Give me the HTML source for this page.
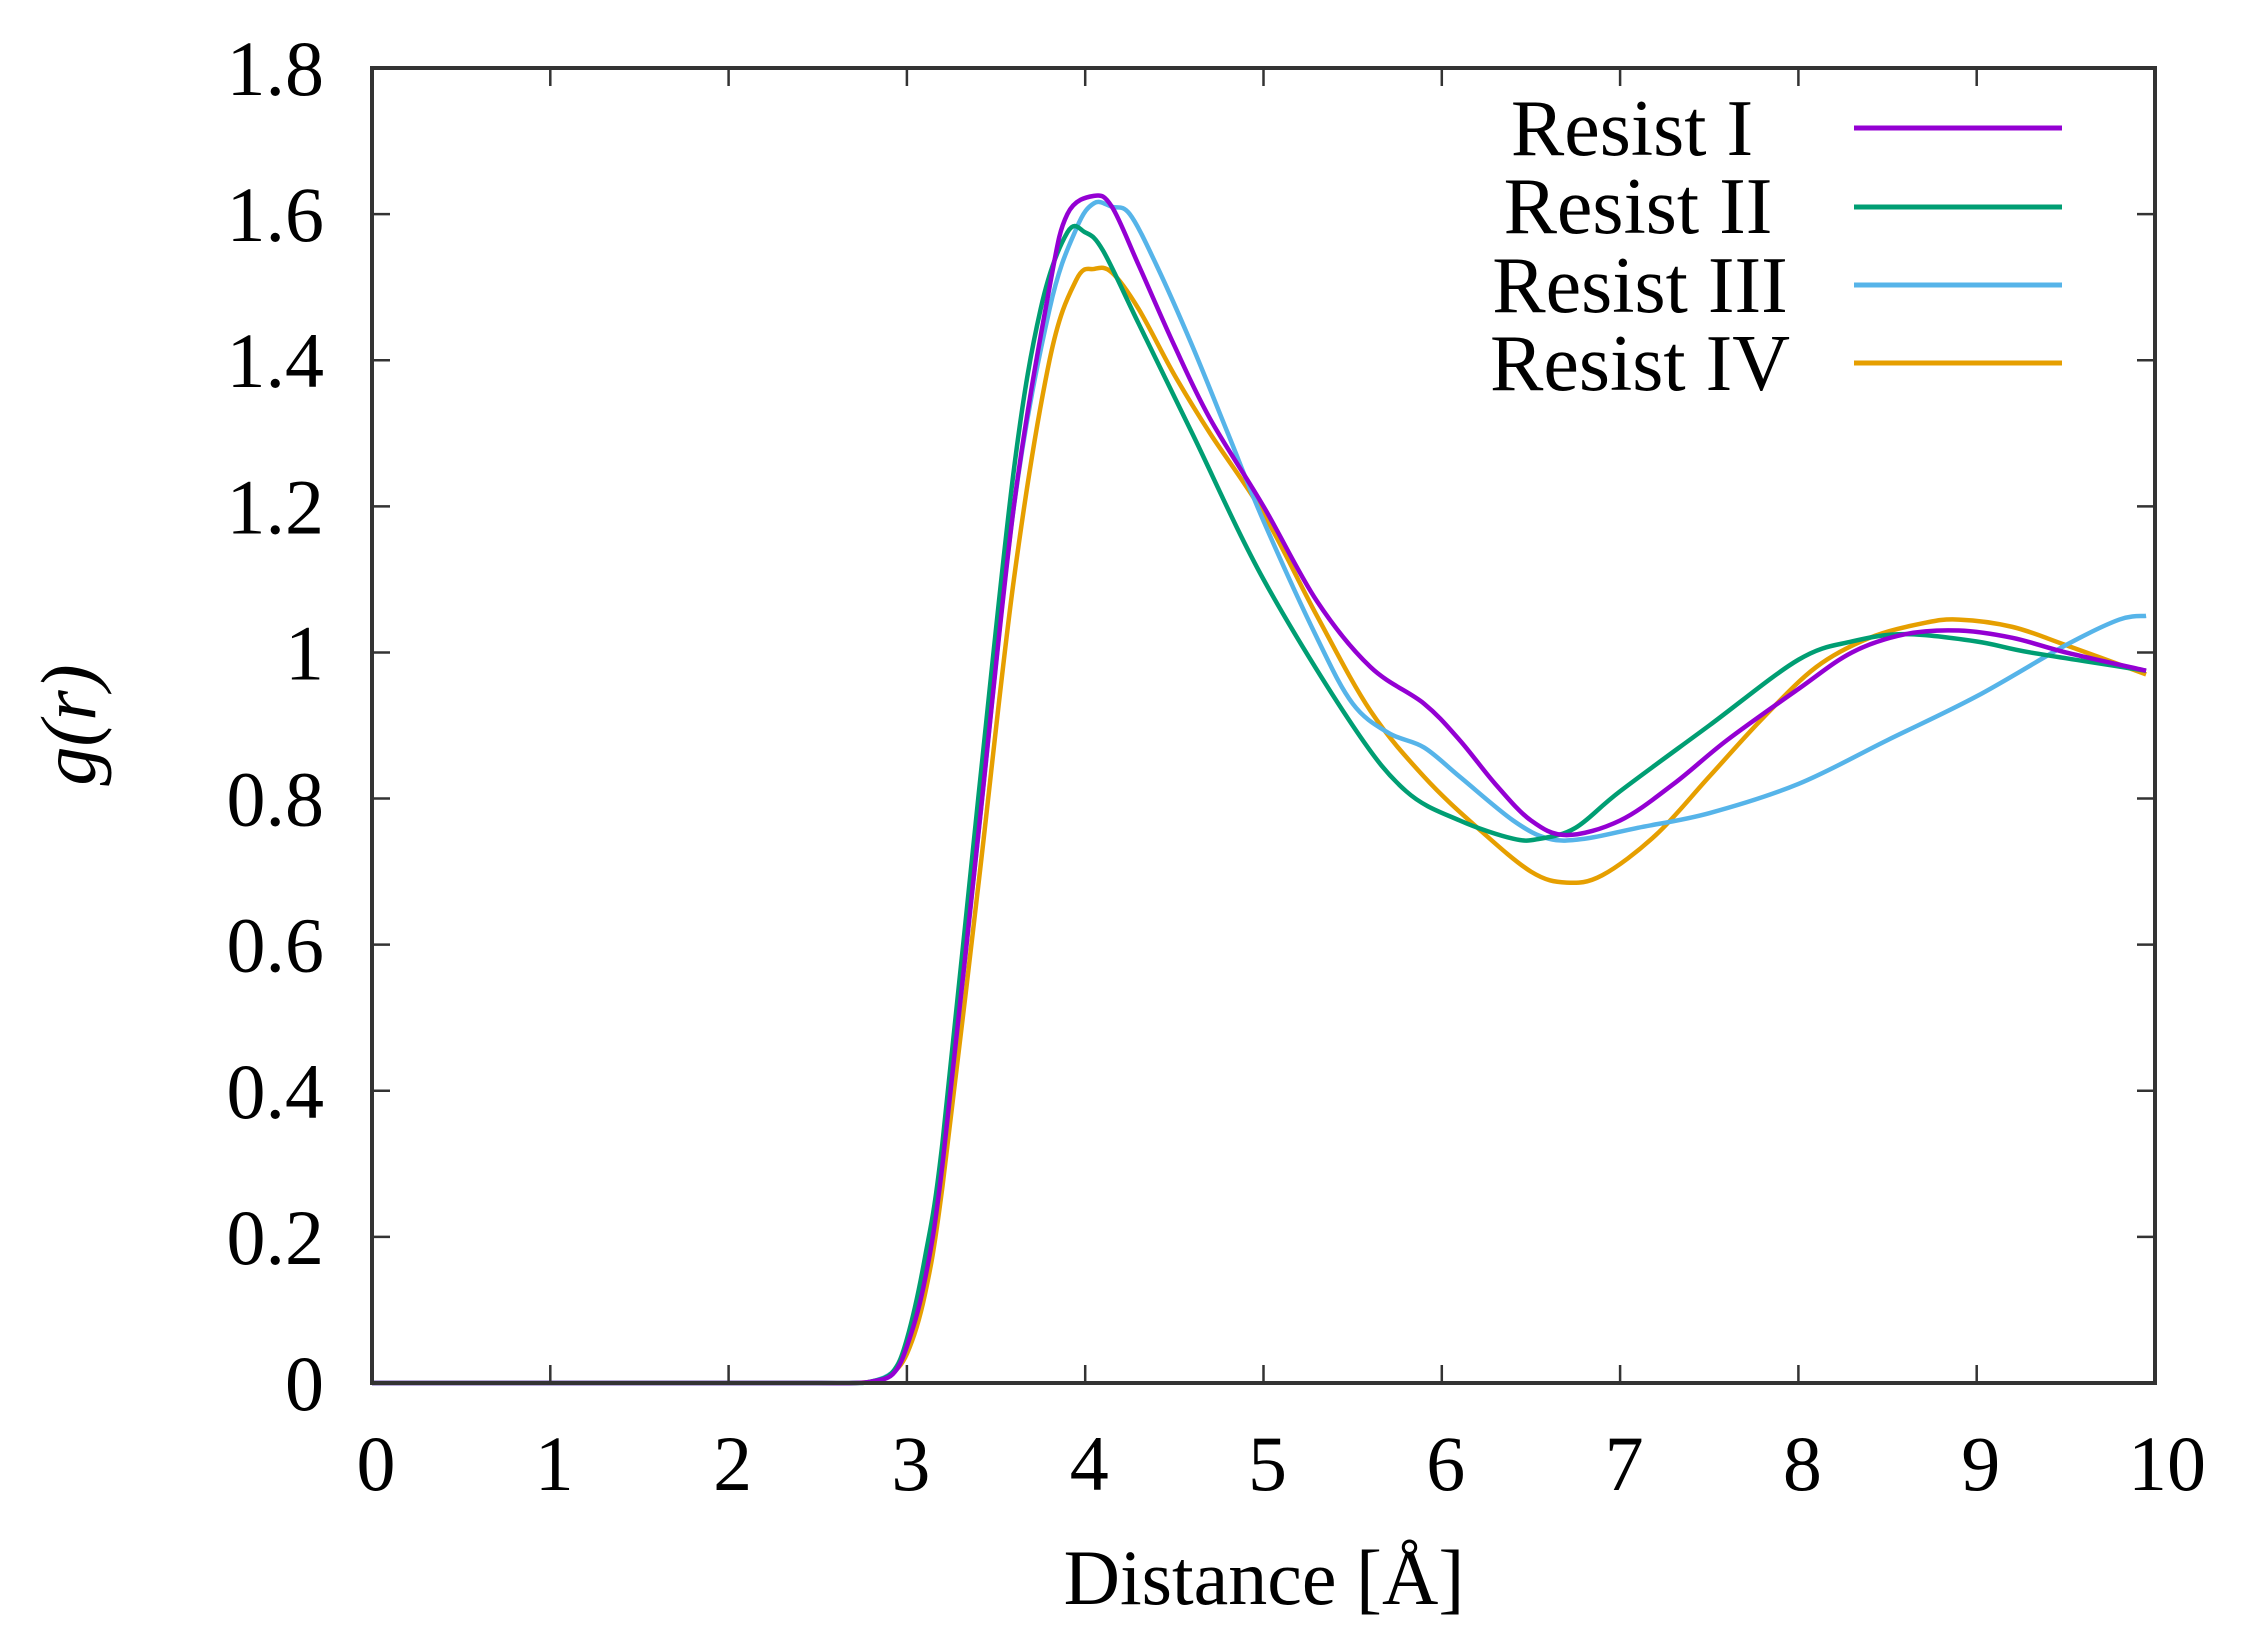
<!DOCTYPE html>
<html><head><meta charset="utf-8"><style>
html,body{margin:0;padding:0;background:#fff;}
svg{display:block;}
text{font-family:"Liberation Serif",serif;fill:#000;}
</style></head><body>
<svg id="s" width="2252" height="1640" viewBox="0 0 2252 1640" xmlns="http://www.w3.org/2000/svg">
<g id="curves" fill="none" stroke-width="4.5" stroke-linejoin="round"></g>
<rect x="372" y="68" width="1783" height="1315" fill="none" stroke="#333" stroke-width="4"/>
<g id="ticks" stroke="#333" stroke-width="2.5"></g>
<g id="labels" font-size="78"></g>
<text x="1264" y="1604" font-size="78" text-anchor="middle">Distance [Å]</text>
<text transform="translate(95,725) rotate(-90)" font-size="78" text-anchor="middle" font-style="italic">g(r)</text>
<g font-size="80" text-anchor="middle">
<text x="1632" y="155">Resist I</text>
<text x="1638" y="233">Resist II</text>
<text x="1640" y="312">Resist III</text>
<text x="1640" y="390">Resist IV</text>
</g>
<g stroke-width="5">
<line x1="1854" y1="128" x2="2062" y2="128" stroke="#9400d3"/>
<line x1="1854" y1="207" x2="2062" y2="207" stroke="#009e73"/>
<line x1="1854" y1="285" x2="2062" y2="285" stroke="#56b4e9"/>
<line x1="1854" y1="363" x2="2062" y2="363" stroke="#e69f00"/>
</g>
</svg>
<script>
var L=372,R=2155,T=68,B=1383;
function X(v){return L+v*(R-L)/10;}
function Y(g){return B-g*(B-T)/1.8;}
var NS="http://www.w3.org/2000/svg";
var tk=document.getElementById('ticks'),lb=document.getElementById('labels');
function el(p,n,a,t){var e=document.createElementNS(NS,n);for(var k in a)e.setAttribute(k,a[k]);if(t!=null)e.textContent=t;p.appendChild(e);}
for(var i=0;i<=10;i++){var x=X(i);
 el(tk,'line',{x1:x,y1:B,x2:x,y2:B-18});el(tk,'line',{x1:x,y1:T,x2:x,y2:T+18});
 el(lb,'text',{x:x+(i==10?12:4),y:1490,'text-anchor':'middle'},String(i));}
var yl=['0','0.2','0.4','0.6','0.8','1','1.2','1.4','1.6','1.8'];
for(var j=0;j<10;j++){var y=Y(j*0.2);
 el(tk,'line',{x1:L,y1:y,x2:L+18,y2:y});el(tk,'line',{x1:R,y1:y,x2:R-18,y2:y});
 el(lb,'text',{x:324,y:y+27,'text-anchor':'end'},yl[j]);}
var pre=[[0,0],[1,0],[2,0],[2.5,0],[2.7,0]];
var D={
'#e69f00':[[2.8,0.002],[2.9,0.01],[3.0,0.04],[3.1,0.12],[3.2,0.27],[3.4,0.68],[3.6,1.1],[3.8,1.4],[3.95,1.51],[4.05,1.525],[4.15,1.52],[4.3,1.47],[4.5,1.38],[4.7,1.3],[5.0,1.19],[5.3,1.05],[5.6,0.92],[5.9,0.83],[6.2,0.76],[6.5,0.70],[6.7,0.685],[6.9,0.695],[7.2,0.75],[7.5,0.83],[7.8,0.91],[8.1,0.98],[8.4,1.02],[8.7,1.04],[8.9,1.045],[9.2,1.035],[9.5,1.01],[9.95,0.97]],
'#56b4e9':[[2.8,0.002],[2.92,0.015],[3.0,0.05],[3.1,0.15],[3.2,0.3],[3.4,0.75],[3.6,1.2],[3.8,1.47],[3.95,1.58],[4.05,1.615],[4.15,1.61],[4.25,1.6],[4.4,1.53],[4.6,1.42],[4.8,1.3],[5.0,1.18],[5.3,1.02],[5.5,0.93],[5.7,0.89],[5.9,0.87],[6.1,0.83],[6.4,0.77],[6.6,0.745],[6.8,0.745],[7.1,0.76],[7.5,0.78],[8.0,0.82],[8.5,0.88],[9.0,0.94],[9.5,1.01],[9.8,1.045],[9.95,1.05]],
'#009e73':[[2.8,0.002],[2.92,0.015],[3.0,0.06],[3.1,0.17],[3.2,0.33],[3.4,0.8],[3.6,1.25],[3.75,1.47],[3.9,1.575],[4.0,1.575],[4.1,1.55],[4.3,1.45],[4.6,1.3],[5.0,1.1],[5.5,0.9],[5.8,0.81],[6.1,0.77],[6.4,0.745],[6.55,0.745],[6.75,0.76],[7.0,0.81],[7.5,0.9],[8.0,0.99],[8.3,1.015],[8.6,1.025],[9.0,1.015],[9.3,1.0],[9.95,0.975]],
'#9400d3':[[2.8,0.002],[2.92,0.012],[3.0,0.05],[3.1,0.14],[3.2,0.3],[3.4,0.75],[3.6,1.2],[3.8,1.5],[3.9,1.6],[4.05,1.625],[4.15,1.61],[4.3,1.53],[4.5,1.42],[4.7,1.32],[5.0,1.2],[5.3,1.07],[5.6,0.98],[5.9,0.93],[6.1,0.88],[6.3,0.82],[6.5,0.77],[6.7,0.75],[7.0,0.77],[7.3,0.82],[7.6,0.88],[8.0,0.95],[8.3,1.0],[8.6,1.025],[8.9,1.03],[9.2,1.02],[9.5,1.0],[9.95,0.975]]
};
var cg=document.getElementById('curves');
for(var c in D){var p=pre.concat(D[c]),d='M'+X(p[0][0])+','+Y(p[0][1]);
 for(var i=0;i<p.length-1;i++){var p0=p[i>0?i-1:i],p1=p[i],p2=p[i+1],p3=p[i+2<p.length?i+2:i+1];
  var x1=X(p1[0])+(X(p2[0])-X(p0[0]))/6,y1=Y(p1[1])+(Y(p2[1])-Y(p0[1]))/6,
      x2=X(p2[0])-(X(p3[0])-X(p1[0]))/6,y2=Y(p2[1])-(Y(p3[1])-Y(p1[1]))/6;
  d+=' C'+x1+','+y1+' '+x2+','+y2+' '+X(p2[0])+','+Y(p2[1]);}
 el(cg,'path',{d:d,stroke:c});}
</script>
</body></html>
